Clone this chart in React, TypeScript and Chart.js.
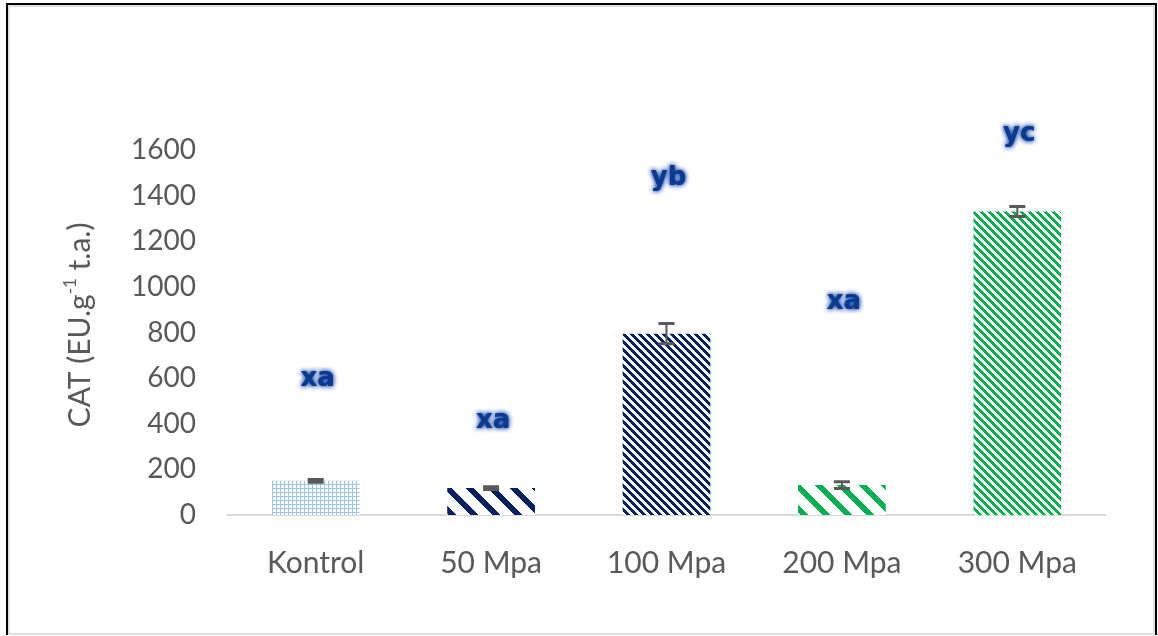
import React, { useEffect, useRef } from "react";
import { Chart, registerables } from "chart.js";

Chart.register(...registerables);

const categories = ["Kontrol", "50 Mpa", "100 Mpa", "200 Mpa", "300 Mpa"];
const catValues = [150, 118, 795, 131, 1330];
const errValues = [6, 6, 44, 15, 22];
const letters = ["xa", "xa", "yb", "xa", "yc"];
const letterLevels = [596, 412, 1478, 934, 1667];
const yTickValues = [0, 200, 400, 600, 800, 1000, 1200, 1400, 1600];
const yTitleMain = "CAT (EU.g";
const yTitleSup = "-1";
const yTitleEnd = " t.a.)";

const NAVY = "#002060";
const GREEN = "#00B050";
const LIGHTBLUE = "#9DC3E6";
const TEXT = "#595959";
const FONT = "Lato";

function hexToRgb(hex: string) {
  const h = hex.replace("#", "");
  return [parseInt(h.slice(0, 2), 16), parseInt(h.slice(2, 4), 16), parseInt(h.slice(4, 6), 16)];
}

function makePattern(ctx: CanvasRenderingContext2D, period: number, test: (x: number, y: number) => boolean, color: string) {
  const c = document.createElement("canvas");
  c.width = period;
  c.height = period;
  const cx = c.getContext("2d")!;
  const img = cx.createImageData(period, period);
  const [r, g, b] = hexToRgb(color);
  for (let y = 0; y < period; y++) {
    for (let x = 0; x < period; x++) {
      const i = (y * period + x) * 4;
      const on = test(x, y);
      img.data[i] = on ? r : 255;
      img.data[i + 1] = on ? g : 255;
      img.data[i + 2] = on ? b : 255;
      img.data[i + 3] = 255;
    }
  }
  cx.putImageData(img, 0, 0);
  return ctx.createPattern(c, "repeat")!;
}

function stripes(ctx: CanvasRenderingContext2D, color: string, period: number, width: number) {
  return makePattern(ctx, period, (x, y) => ((((x - y) % period) + period) % period) < width, color);
}

function dots(ctx: CanvasRenderingContext2D, color: string) {
  return makePattern(ctx, 4, (x, y) => (x % 4 === 0 || y % 4 === 0) && !(x === 0 && y === 0 && false), color);
}

const errorBarPlugin = {
  id: "errorBars",
  afterDatasetsDraw(chart: any) {
    const { ctx } = chart;
    const meta = chart.getDatasetMeta(0);
    const yScale = chart.scales.y;
    ctx.save();
    ctx.strokeStyle = TEXT;
    meta.data.forEach((bar: any, i: number) => {
      const x = bar.x;
      const top = yScale.getPixelForValue(catValues[i] + errValues[i]);
      const bot = yScale.getPixelForValue(catValues[i] - errValues[i]);
      ctx.lineWidth = 2;
      ctx.beginPath();
      ctx.moveTo(x, top);
      ctx.lineTo(x, bot);
      ctx.stroke();
      ctx.lineWidth = 3;
      ctx.beginPath();
      ctx.moveTo(x - 8, top);
      ctx.lineTo(x + 8, top);
      ctx.moveTo(x - 8, bot);
      ctx.lineTo(x + 8, bot);
      ctx.stroke();
    });
    ctx.restore();
  },
};

const lettersPlugin = {
  id: "letters",
  afterDraw(chart: any) {
    const { ctx } = chart;
    const meta = chart.getDatasetMeta(0);
    const yScale = chart.scales.y;
    ctx.save();
    ctx.font = "bold 26px 'DejaVu Sans'";
    ctx.textAlign = "center";
    ctx.textBaseline = "middle";
    ctx.fillStyle = "#0B3A8E";
    ctx.shadowColor = "rgba(20,70,170,0.9)";
    ctx.shadowBlur = 5;
    meta.data.forEach((bar: any, i: number) => {
      const y = yScale.getPixelForValue(letterLevels[i]);
      ctx.fillText(letters[i], bar.x + 2, y);
      ctx.fillText(letters[i], bar.x + 2, y);
    });
    ctx.restore();
  },
};

const yTitlePlugin = {
  id: "yTitle",
  afterDraw(chart: any) {
    const { ctx } = chart;
    ctx.save();
    ctx.translate(80, 325);
    ctx.rotate(-Math.PI / 2);
    ctx.fillStyle = TEXT;
    ctx.textBaseline = "middle";
    ctx.textAlign = "left";
    const mainFont = `30px ${FONT}`;
    const supFont = `17px ${FONT}`;
    ctx.font = mainFont;
    const w1 = ctx.measureText(yTitleMain).width;
    const w3 = ctx.measureText(yTitleEnd).width;
    ctx.font = supFont;
    const w2 = ctx.measureText(yTitleSup).width;
    let x = -(w1 + w2 + w3) / 2;
    ctx.font = mainFont;
    ctx.fillText(yTitleMain, x, 0);
    x += w1;
    ctx.font = supFont;
    ctx.fillText(yTitleSup, x, -9);
    x += w2;
    ctx.font = mainFont;
    ctx.fillText(yTitleEnd, x, 0);
    ctx.restore();
  },
};

export default function App() {
  const ref = useRef<HTMLCanvasElement | null>(null);

  useEffect(() => {
    const canvas = ref.current!;
    const ctx = canvas.getContext("2d")!;
    const fills = [
      dots(ctx, LIGHTBLUE),
      stripes(ctx, NAVY, 22, 8),
      stripes(ctx, NAVY, 8, 4),
      stripes(ctx, GREEN, 22, 8),
      stripes(ctx, GREEN, 8, 4),
    ];
    const chart = new Chart(canvas, {
      type: "bar",
      data: {
        labels: categories,
        datasets: [
          {
            data: catValues,
            backgroundColor: fills as any,
            borderWidth: 0,
            barPercentage: 0.5,
            categoryPercentage: 1,
          },
        ],
      },
      options: {
        responsive: false,
        animation: false,
        devicePixelRatio: 1,
        layout: { padding: { top: 150, right: 53, bottom: 31, left: 0 } },
        plugins: { legend: { display: false }, tooltip: { enabled: false } },
        scales: {
          x: {
            grid: { display: false, drawTicks: false },
            border: { display: true, color: "#D9D9D9", width: 2 },
            ticks: { color: TEXT, font: { family: FONT, size: 30 }, padding: 30 },
            afterFit: (s: any) => {
              s.height = 90;
            },
          },
          y: {
            min: 0,
            max: 1600,
            afterBuildTicks: (s: any) => {
              s.ticks = yTickValues.map((v) => ({ value: v }));
            },
            grid: { display: false, drawTicks: false },
            border: { display: false },
            ticks: {
              color: TEXT,
              font: { family: FONT, size: 28 },
              padding: 32,
              callback: (v: any) => String(v),
            },
            afterFit: (s: any) => {
              s.width = 228;
            },
          },
        },
      },
      plugins: [errorBarPlugin, lettersPlugin, yTitlePlugin],
    });
    return () => chart.destroy();
  }, []);

  return (
    <div style={{ position: "fixed", left: 0, top: 0, width: 1158, height: 636, background: "#fff", overflow: "hidden" }}>
      <canvas ref={ref} width={1158} height={636} style={{ position: "absolute", left: 0, top: 0 }} />
      <div
        style={{
          position: "absolute",
          left: 6,
          top: 3,
          width: 1151,
          height: 632,
          boxSizing: "border-box",
          border: "2px solid #000",
          borderBottom: "none",
          boxShadow: "inset 2px 2px 0 0 #E0E0E0, inset -2px -2px 0 0 #E0E0E0",
          pointerEvents: "none",
        }}
      />
    </div>
  );
}
